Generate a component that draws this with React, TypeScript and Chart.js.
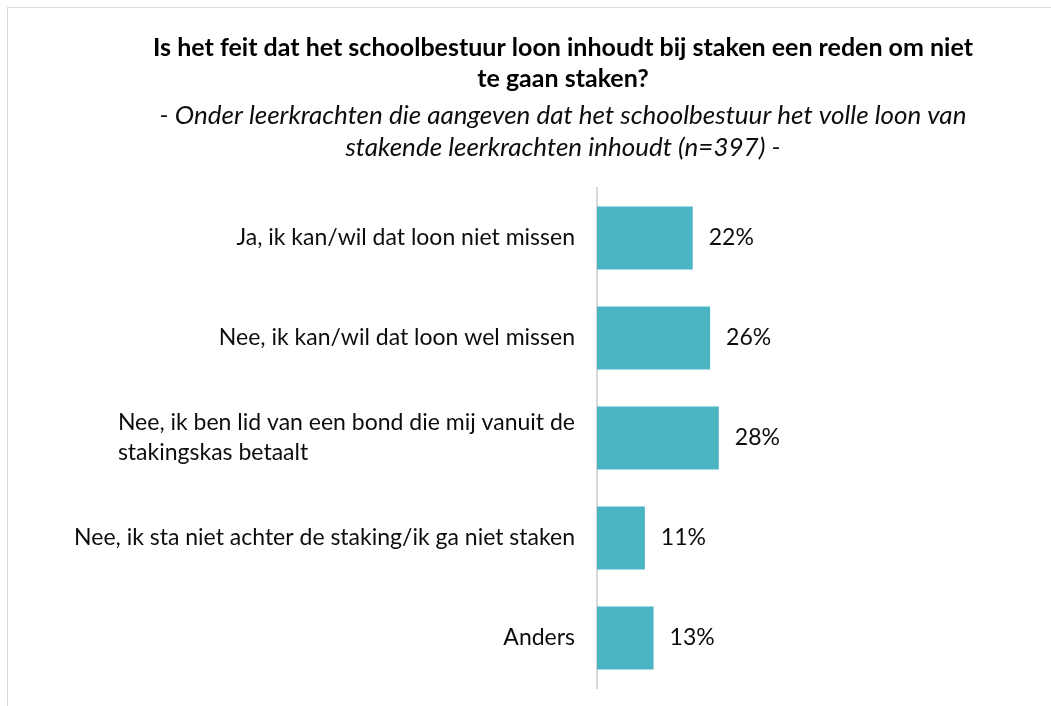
import React, { useEffect, useRef } from "react";
import { Chart, registerables } from "chart.js";

Chart.register(...registerables);

const titleLines = [
  "Is het feit dat het schoolbestuur loon inhoudt bij staken een reden om niet",
  "te gaan staken?",
];
const subtitleLines = [
  "- Onder leerkrachten die aangeven dat het schoolbestuur het volle loon van",
  "stakende leerkrachten inhoudt (n=397) -",
];
const categories: string[][] = [
  ["Ja, ik kan/wil dat loon niet missen"],
  ["Nee, ik kan/wil dat loon wel missen"],
  ["Nee, ik ben lid van een bond die mij vanuit de", "stakingskas betaalt"],
  ["Nee, ik sta niet achter de staking/ik ga niet staken"],
  ["Anders"],
];
const values = [22, 26, 28, 11, 13];

const FONT = "Lato, 'Open Sans', sans-serif";
const TEXT_COLOR = "#0d0d0d";
const BAR_COLOR = "#4bb5c4";

const labelsPlugin = {
  id: "customLabels",
  afterDatasetsDraw(chart: any) {
    const ctx = chart.ctx;
    const yScale = chart.scales.y;
    const area = chart.chartArea;
    const meta = chart.getDatasetMeta(0);
    ctx.save();
    ctx.font = `23px ${FONT}`;
    ctx.fillStyle = TEXT_COLOR;
    ctx.textBaseline = "middle";
    categories.forEach((lines, i) => {
      const y = yScale.getPixelForValue(i);
      const maxW = Math.max(...lines.map((l) => ctx.measureText(l).width));
      const x0 = area.left - 22 - maxW;
      ctx.textAlign = "left";
      lines.forEach((line, j) => {
        ctx.fillText(line, x0, y + (j - (lines.length - 1) / 2) * 30);
      });
      const bar = meta.data[i];
      ctx.fillText(`${values[i]}%`, bar.x + 16, bar.y);
    });
    ctx.restore();
  },
};

export default function App() {
  const ref = useRef<HTMLCanvasElement>(null);
  useEffect(() => {
    if (!ref.current) return;
    const chart = new Chart(ref.current, {
      type: "bar",
      data: {
        labels: categories.map((c) => c.join(" ")),
        datasets: [
          {
            data: values,
            backgroundColor: BAR_COLOR,
            borderWidth: 0,
            categoryPercentage: 1,
            barPercentage: 0.63,
          },
        ],
      },
      options: {
        indexAxis: "y",
        responsive: false,
        animation: false,
        layout: { padding: { left: 86, right: 19, top: 0, bottom: 18 } },
        plugins: {
          legend: { display: false },
          tooltip: { enabled: false },
          title: {
            display: true,
            text: titleLines,
            color: "#000",
            font: { family: FONT, size: 25, weight: "bold", lineHeight: "31.5px" },
            padding: { top: 24, bottom: 0 },
          },
          subtitle: {
            display: true,
            text: subtitleLines,
            color: TEXT_COLOR,
            font: { family: FONT, size: 26, style: "italic", lineHeight: "31.5px" },
            padding: { top: 5, bottom: 25 },
          },
        },
        scales: {
          x: { display: false, min: 0, max: 100 },
          y: {
            grid: { display: false },
            border: { display: true, color: "#d9d9d9", width: 2 },
            ticks: { display: false },
            afterFit(scale: any) {
              scale.width = 503;
            },
          },
        },
      },
      plugins: [labelsPlugin],
    } as any);
    return () => chart.destroy();
  }, []);
  return (
    <div
      style={{
        position: "fixed",
        left: 7,
        top: 7,
        width: 1044,
        height: 699,
        borderTop: "1px solid #d9d9d9",
        borderLeft: "1px solid #d9d9d9",
        background: "#fff",
      }}
    >
      <canvas ref={ref} width={1043} height={698} style={{ display: "block" }} />
    </div>
  );
}
